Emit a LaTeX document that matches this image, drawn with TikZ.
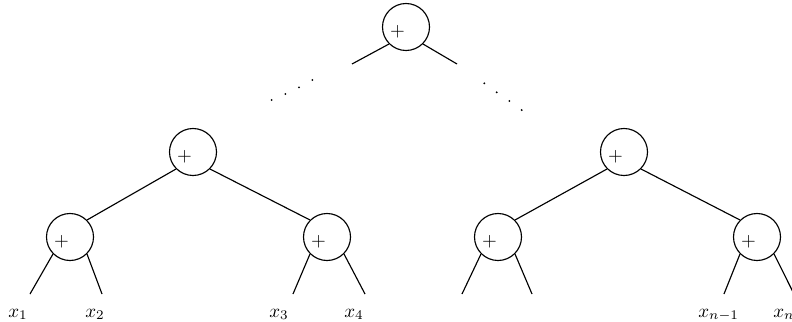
\documentclass[tikz,border=0pt]{standalone}
\usepackage{amsmath}
\usepackage{tikz}
\tikzset{
  wire/.style      = {line width=0.6pt},
  adder/.style     = {circle, draw, line width=0.6pt, fill=white,
                      inner sep=0pt, minimum size=0.87cm,
                      path picture={\node at ([xshift=-4.5pt,yshift=-2.3pt]path picture bounding box.center) {$+$};}},
  leaf/.style      = {anchor=base west, inner sep=0pt},
}

\begin{document}
\begin{tikzpicture}[x=0.01851cm, y=-0.01851cm]
  \useasboundingbox (0,0) rectangle (792,322);

  % ---- adders ------------------------------------------------------------
  \node[adder] (root) at (406,27)  {};
  \node[adder] (l)    at (193,152) {};
  \node[adder] (r)    at (624,152) {};
  \node[adder] (ll)   at (70,237)  {};
  \node[adder] (lr)   at (327,237) {};
  \node[adder] (rl)   at (498,237) {};
  \node[adder] (rr)   at (757,237) {};

  % ---- stubs under the root, the middle of the tree is left out ----------
  \coordinate (root-a) at (352,64);
  \coordinate (root-b) at (457,64);
  \draw[wire] (root.south west) -- (root-a);
  \draw[wire] (root.south east) -- (root-b);
  \foreach \x/\y in {271.7/100,285.3/94,299/87.3,312.3/80,
                     484.3/83.3,496.7/92.3,509.3/101,521.7/110}
    { \fill (\x,\y) circle (0.55pt); }

  % ---- inner edges ---------------------------------------------------------
  \draw[wire] (l.south west) -- (ll.north east);
  \draw[wire] (l.south east) -- (lr.north west);
  \draw[wire] (r.south west) -- (rl.north east);
  \draw[wire] (r.south east) -- (rr.north west);

  % ---- leaf stubs ----------------------------------------------------------
  \foreach \n/\a/\b in {ll/30/102, lr/293/365, rl/462/532, rr/724/794} {
    \coordinate (\n-a) at (\a,294);
    \coordinate (\n-b) at (\b,294);
    \draw[wire] (\n.south west) -- (\n-a);
    \draw[wire] (\n.south east) -- (\n-b);
  }

  % ---- inputs --------------------------------------------------------------
  \node[leaf] (x1)  at (8,317)   {$x_1$};
  \node[leaf] (x2)  at (85,317)  {$x_2$};
  \node[leaf] (x3)  at (269,317) {$x_3$};
  \node[leaf] (x4)  at (344,317) {$x_4$};
  \node[leaf] (xm)  at (698,317) {$x_{n-1}$};
  \node[leaf] (xn)  at (773,317) {$x_n$};
\end{tikzpicture}
\end{document}
